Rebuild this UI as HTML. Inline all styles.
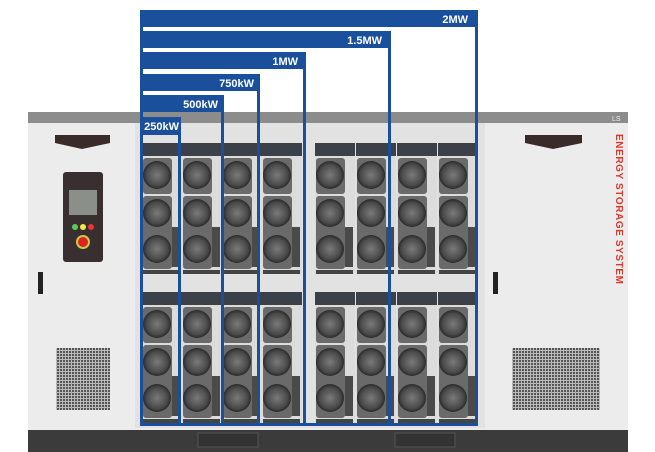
<!DOCTYPE html>
<html><head><meta charset="utf-8"><style>
html,body{margin:0;padding:0;background:#fff;width:655px;height:452px;overflow:hidden}
svg{display:block}
</style></head><body>
<svg width="655" height="452" viewBox="0 0 655 452" xmlns="http://www.w3.org/2000/svg">
<defs>
<radialGradient id="fg" cx="50%" cy="50%" r="50%">
<stop offset="0" stop-color="#7a7a7a"/><stop offset="0.75" stop-color="#4a4a4a"/><stop offset="1" stop-color="#2a2a2a"/>
</radialGradient>
<pattern id="mesh" width="3" height="3" patternUnits="userSpaceOnUse">
<rect width="3" height="3" fill="#bbb"/><rect width="2" height="2" fill="#555"/>
</pattern>
<g id="mod">
<rect x="0" y="0" width="40" height="13" fill="#3b4049"/>
<rect x="0" y="13" width="40" height="118" fill="#dcdcdc"/>
<rect x="1" y="15" width="29" height="36" rx="3" fill="#6a6a6a"/>
<circle cx="15" cy="32" r="14" fill="url(#fg)"/>
<rect x="1" y="53" width="29" height="73" rx="3" fill="#6a6a6a"/>
<circle cx="15" cy="70" r="14" fill="url(#fg)"/>
<circle cx="15" cy="106" r="14" fill="url(#fg)"/>
<rect x="30" y="84" width="8" height="40" fill="#4a4a4a"/>
<rect x="1" y="127" width="37" height="4" fill="#444"/>
</g>
</defs>
<rect x="28" y="121" width="600" height="310" fill="#ececec"/>
<rect x="28" y="112" width="600" height="11" fill="#8c8c8c"/>
<rect x="135" y="123" width="350" height="305" fill="#e2e2e2"/>
<rect x="28" y="430" width="600" height="22" fill="#3c3b3b"/>
<rect x="198" y="433" width="60" height="14" fill="#333" stroke="#555"/>
<rect x="395" y="433" width="60" height="14" fill="#333" stroke="#555"/>
<path d="M55 135 H110 V143 L82 149 L55 143Z" fill="#3a2a2a"/>
<rect x="63" y="172" width="40" height="90" rx="3" fill="#3a2f30"/>
<rect x="69" y="190" width="28" height="25" fill="#8a8f8a"/>
<circle cx="75" cy="227" r="3" fill="#5c5"/><circle cx="83" cy="227" r="3" fill="#ee4"/><circle cx="91" cy="227" r="3" fill="#e33"/>
<circle cx="83" cy="242" r="6" fill="#d22" stroke="#cc4" stroke-width="2"/>
<rect x="38" y="272" width="5" height="22" fill="#222"/>
<rect x="493" y="272" width="5" height="22" fill="#222"/>
<path d="M525 135 H582 V143 L553 149 L525 143Z" fill="#3a2a2a"/>
<text x="0" y="0" transform="translate(616,134) rotate(90)" font-family="Liberation Sans, sans-serif" font-size="10" font-weight="bold" fill="#d83a2a" letter-spacing="0.6">ENERGY STORAGE SYSTEM</text>
<text x="612" y="121" font-family="Liberation Sans, sans-serif" font-size="7" fill="#eee">LS</text>
<rect x="56" y="348" width="54" height="62" fill="url(#mesh)"/>
<rect x="512" y="348" width="88" height="62" fill="url(#mesh)"/>
<use href="#mod" x="142" y="143"/><use href="#mod" x="182" y="143"/><use href="#mod" x="222" y="143"/><use href="#mod" x="262" y="143"/>
<use href="#mod" x="315" y="143"/><use href="#mod" x="356" y="143"/><use href="#mod" x="397" y="143"/><use href="#mod" x="438" y="143"/>
<use href="#mod" x="142" y="292"/><use href="#mod" x="182" y="292"/><use href="#mod" x="222" y="292"/><use href="#mod" x="262" y="292"/>
<use href="#mod" x="315" y="292"/><use href="#mod" x="356" y="292"/><use href="#mod" x="397" y="292"/><use href="#mod" x="438" y="292"/>
<g fill="#1a4f9c">
<rect x="140" y="10" width="338" height="17"/>
<rect x="140" y="31" width="251" height="17"/>
<rect x="140" y="52" width="166" height="17"/>
<rect x="140" y="74" width="120" height="17"/>
<rect x="140" y="95" width="84" height="17"/>
<rect x="140" y="117" width="41" height="18"/>
<rect x="140" y="10" width="3" height="416"/>
<rect x="475" y="10" width="3" height="416"/>
<rect x="388" y="31" width="3" height="395"/>
<rect x="303" y="52" width="3" height="374"/>
<rect x="257" y="74" width="3" height="352"/>
<rect x="221" y="95" width="3" height="331"/>
<rect x="178" y="117" width="3" height="309"/>
<rect x="140" y="423" width="338" height="3"/>
</g>
<g font-family="Liberation Sans, sans-serif" font-size="11" font-weight="bold" fill="#fff" text-anchor="end">
<text x="468" y="23">2MW</text>
<text x="382" y="44">1.5MW</text>
<text x="298" y="65">1MW</text>
<text x="254" y="87">750kW</text>
<text x="218" y="108">500kW</text>
<text x="179" y="130">250kW</text>
</g>
</svg>
</body></html>
